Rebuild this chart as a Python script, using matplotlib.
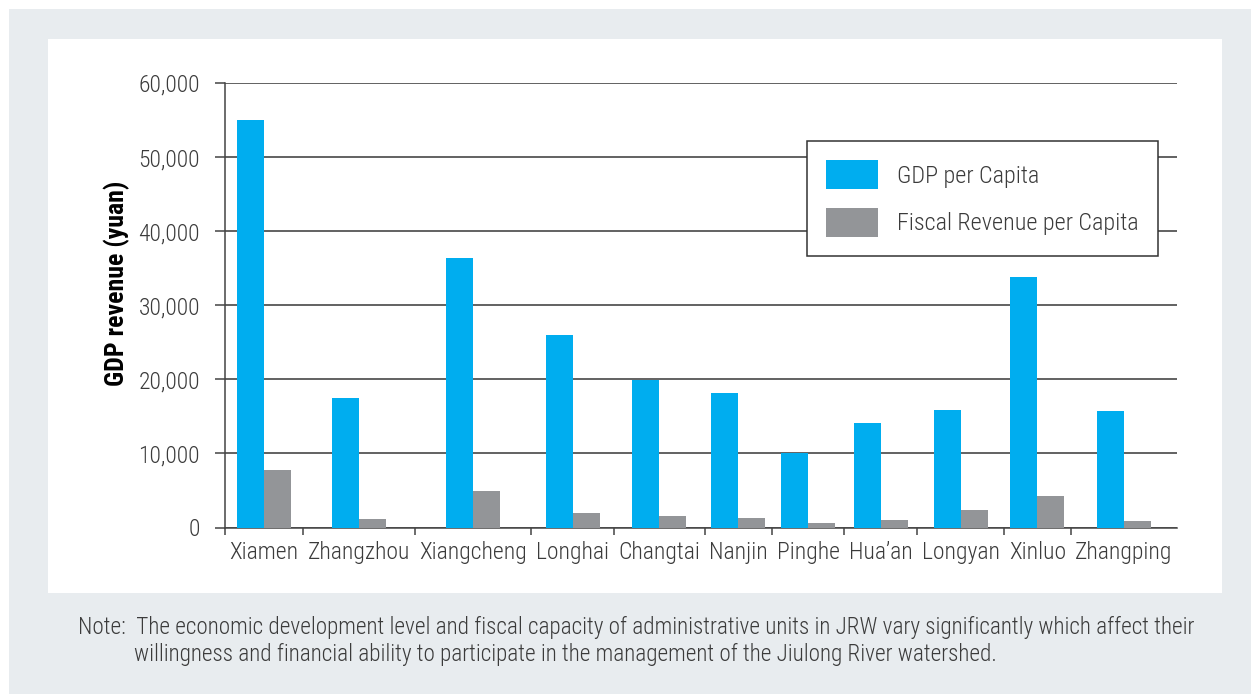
import numpy as np
import matplotlib
matplotlib.use("Agg")
import matplotlib.pyplot as plt
from matplotlib import font_manager
from matplotlib.patches import Rectangle
from matplotlib.ticker import FuncFormatter

# data
cities = ["Xiamen", "Zhangzhou", "Xiangcheng", "Longhai", "Changtai", "Nanjin",
          "Pinghe", "Hua\u2019an", "Longyan", "Xinluo", "Zhangping"]
gdp_per_capita = [55000, 17500, 36400, 26000, 19900, 18200, 10000, 14100, 15800, 33800, 15700]
fiscal_per_capita = [7800, 1200, 4900, 1900, 1600, 1250, 600, 1000, 2300, 4200, 900]
series_names = ["GDP per Capita", "Fiscal Revenue per Capita"]
y_label = "GDP revenue (yuan)"
note_1 = "Note:  The economic development level and fiscal capacity of administrative units in JRW vary significantly which affect their"
note_2 = "willingness and financial ability to participate in the management of the Jiulong River watershed."

BLUE = "#00adef"
GREY = "#939598"
BG = "#e8ecef"
INK = "#3b3b3b"

installed = {f.name for f in font_manager.fontManager.ttflist}
font = next((n for n in ["Roboto Condensed", "Liberation Sans Narrow", "Roboto"] if n in installed),
            "DejaVu Sans")
plt.rcParams["font.family"] = [font, "DejaVu Sans"]
plt.rcParams["font.weight"] = "light"

W, H = 1251, 694
fig = plt.figure(figsize=(W / 100, H / 100), dpi=100, facecolor="white")
renderer = fig.canvas.get_renderer()


def box(x0, y0, x1, y1):
    # pixel box (top-left origin) -> figure fraction
    return [x0 / W, 1 - y1 / H, (x1 - x0) / W, (y1 - y0) / H]


def text_w(s, size, **kw):
    t = fig.text(0, 0, s, fontsize=size, **kw)
    w = t.get_window_extent(renderer).width
    t.remove()
    return w


# scale text so the note line fits the same width as in the reference
fs = 17 * min(1.0, 1119 / text_w(note_1, 17))
tick_fs = min(17, fs * 1.06)

b = box(9, 9, W, H)
fig.patches.append(Rectangle(b[:2], b[2], b[3], transform=fig.transFigure,
                             facecolor=BG, edgecolor="none", zorder=-3))
b = box(48, 39, 1222, 593)
fig.patches.append(Rectangle(b[:2], b[2], b[3], transform=fig.transFigure,
                             facecolor="white", edgecolor="none", zorder=-2))

ax_px = (225, 83, 1177, 527.5)
ax = fig.add_axes(box(*ax_px))
ax.set_facecolor("none")
ax_w = ax_px[2] - ax_px[0]

# category widths follow the label widths, like the original layout
lw = np.array([text_w(c, tick_fs) for c in cities])
cat_w = lw + (ax_w - lw.sum()) / len(cities)
edges = np.concatenate([[0], np.cumsum(cat_w)])
centers = (edges[:-1] + edges[1:]) / 2
bw = 27

ax.bar(centers - bw / 2, gdp_per_capita, bw, color=BLUE, label=series_names[0], zorder=3)
ax.bar(centers + bw / 2, fiscal_per_capita, bw, color=GREY, label=series_names[1], zorder=3)

ax.set_xlim(0, ax_w)
ax.set_ylim(0, 60000)
ax.set_yticks(np.arange(0, 60001, 10000))
ax.yaxis.set_major_formatter(FuncFormatter(lambda v, p: f"{int(v):,}"))
ax.set_xticks(centers)
ax.set_xticklabels(cities)
ax.set_xticks(edges[:-1], minor=True)
ax.tick_params(axis="x", which="major", length=0, pad=10, labelsize=tick_fs, labelcolor=INK)
ax.tick_params(axis="x", which="minor", length=5, width=1.1, color="#444444", direction="out")
ax.tick_params(axis="y", length=7, width=1.1, color="#444444", pad=11, labelsize=tick_fs,
               labelcolor=INK)

ax.grid(axis="y", color="#474747", linewidth=1.2, zorder=1)
for s in ["top", "right"]:
    ax.spines[s].set_visible(False)
for s in ["left", "bottom"]:
    ax.spines[s].set_color("#444444")
    ax.spines[s].set_linewidth(1.1)

ax.set_ylabel(y_label, fontsize=fs * 1.12, fontweight="bold", color="black")
ax.yaxis.set_label_coords((130 - 225) / ax_w, (527.5 - 283.5) / 444.5)

leg_fs = tick_fs * 1.02
leg = ax.legend(loc="upper left", bbox_to_anchor=((807 - 225) / ax_w, (527.5 - 141) / 444.5),
                fontsize=leg_fs, frameon=True, fancybox=False, framealpha=1,
                edgecolor="#333333", handlelength=2.15, handleheight=1.45,
                handletextpad=0.8, borderpad=0.8, labelspacing=0.8, borderaxespad=0)
leg.get_frame().set_linewidth(1.1)
for t in leg.get_texts():
    t.set_color(INK)

fig.text(78 / W, 1 - 627 / H, note_1, fontsize=fs, color=INK, va="center", ha="left")
fig.text(134 / W, 1 - 654 / H, note_2, fontsize=fs, color=INK, va="center", ha="left")

fig.savefig("out.png", dpi=100, facecolor="white")
